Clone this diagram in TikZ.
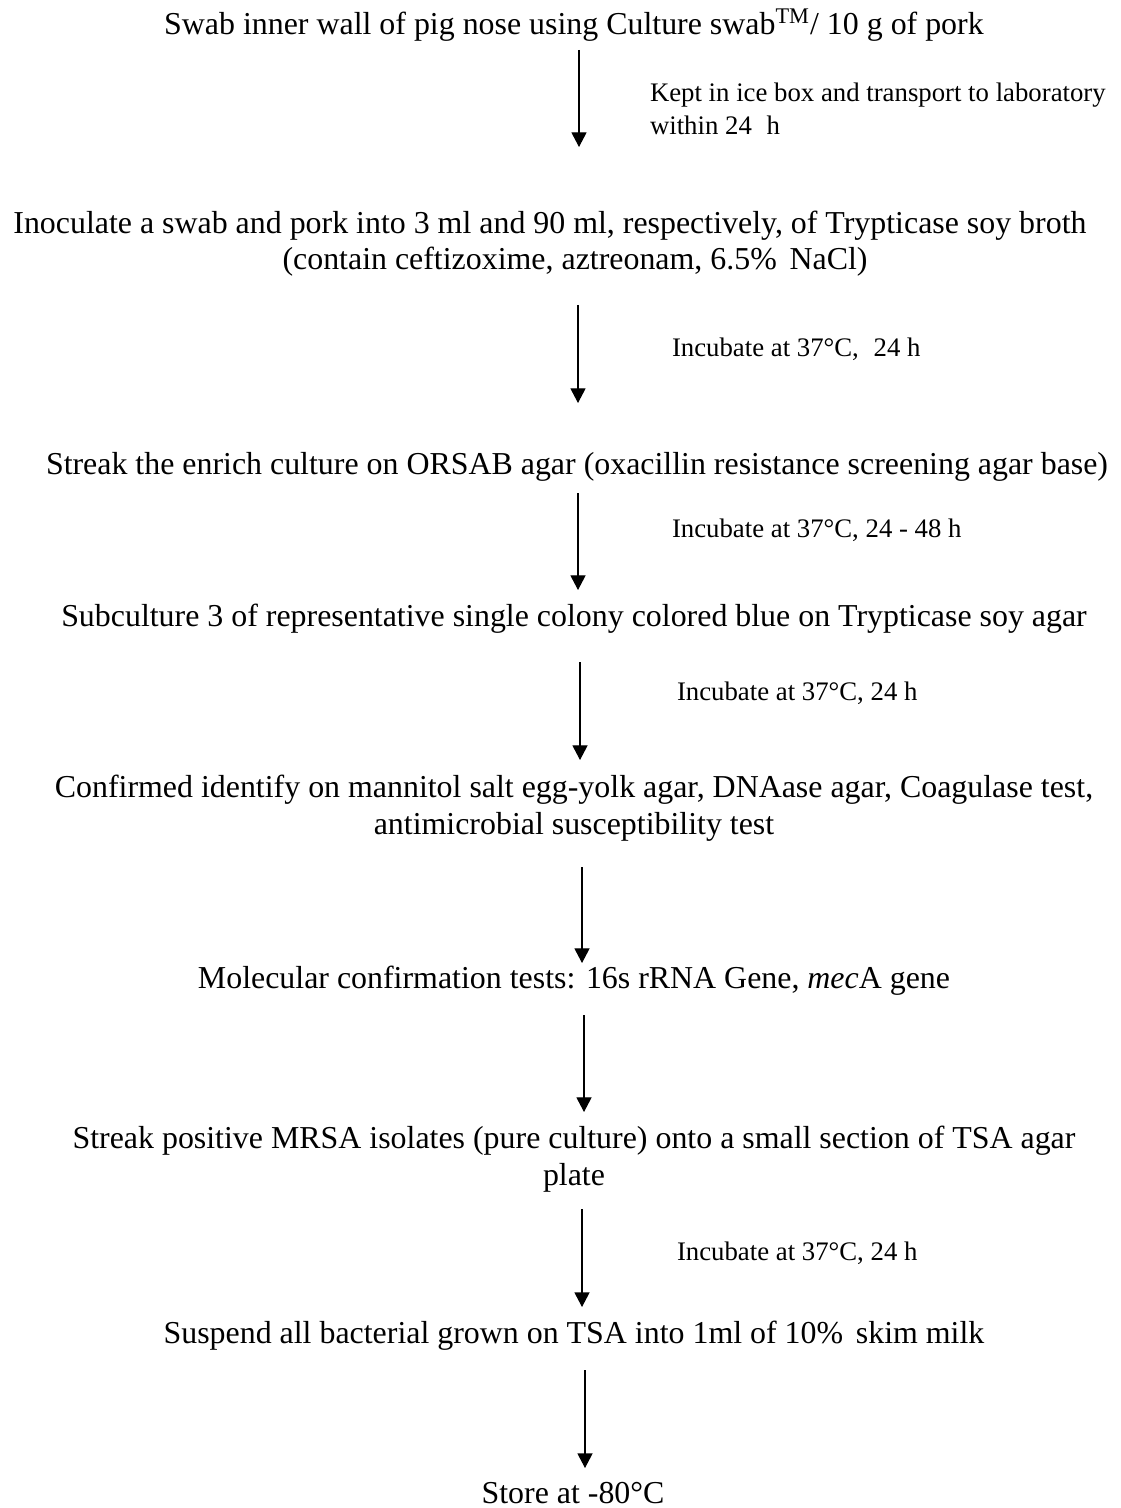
\documentclass[tikz,border=0pt]{standalone}
\usepackage{fontspec}
\setmainfont{Liberation Serif}
\usetikzlibrary{arrows.meta}
\begin{document}
\begin{tikzpicture}[x=0.4389pt,y=-0.4389pt,
  stepnode/.style={inner sep=0pt,outer sep=0pt,anchor=base,align=center,
    font=\fontsize{14}{16.1}\selectfont},
  note/.style={inner sep=0pt,outer sep=0pt,anchor=base west,align=left,
    font=\fontsize{11.75}{14.6}\selectfont},
  flow/.style={line width=0.5pt,-{Triangle[width=6.6pt,length=6.4pt]}}]
\useasboundingbox (0,0) rectangle (1120,1508);
% steps (multi-line nodes: base = baseline of the last line)
\node[stepnode] (t1) at (574,35) {Swab inner wall of pig nose using Culture swab\textsuperscript{TM}/ 10 g of pork};
\node[stepnode] (t2) at (575,270) {Inoculate a swab and pork into 3 ml and 90 ml, respectively, of Trypticase soy broth\hspace*{22pt}\\(contain ceftizoxime, aztreonam, 6.5\%\hspace{0.4em}NaCl)};
\node[stepnode] (t3) at (577,475) {Streak the enrich culture on ORSAB agar (oxacillin resistance screening agar base)};
\node[stepnode] (t4) at (574,626) {Subculture 3 of representative single colony colored blue on Trypticase soy agar};
\node[stepnode] (t5) at (574,834) {Confirmed identify on mannitol salt egg-yolk agar, DNAase agar, Coagulase test,\\antimicrobial susceptibility test};
\node[stepnode] (t6) at (574,988) {Molecular confirmation tests: 16s rRNA Gene, \textit{mec}A gene};
\node[stepnode] (t7) at (574,1185) {Streak positive MRSA isolates (pure culture) onto a small section of TSA agar\\plate};
\node[stepnode] (t8) at (574,1343) {Suspend all bacterial grown on TSA into 1ml of 10\%\hspace{0.4em}skim milk};
\node[stepnode] (t9) at (573,1503) {Store at -80°C};
% notes
\node[note] (n1) at (650,135) {Kept in ice box and transport to laboratory\\within 24\hspace{0.55em}h};
\node[note] (n2) at (672,357) {Incubate at 37°C,\hspace{0.55em}24 h};
\node[note] (n3) at (672,537) {Incubate at 37°C, 24 - 48 h};
\node[note] (n4) at (677,700) {Incubate at 37°C, 24 h};
\node[note] (n7) at (677,1260) {Incubate at 37°C, 24 h};
% arrow ends
\coordinate (a1s) at (579,50);   \coordinate (a1e) at (579,147);
\coordinate (a2s) at (578,305);  \coordinate (a2e) at (578,403);
\coordinate (a3s) at (578,493);  \coordinate (a3e) at (578,590);
\coordinate (a4s) at (580,662);  \coordinate (a4e) at (580,760);
\coordinate (a5s) at (582,867);  \coordinate (a5e) at (582,963);
\coordinate (a6s) at (584,1015); \coordinate (a6e) at (584,1112);
\coordinate (a7s) at (582,1209); \coordinate (a7e) at (582,1307);
\coordinate (a8s) at (585,1370); \coordinate (a8e) at (585,1468);
\draw[flow] (a1s) -- (a1e);
\draw[flow] (a2s) -- (a2e);
\draw[flow] (a3s) -- (a3e);
\draw[flow] (a4s) -- (a4e);
\draw[flow] (a5s) -- (a5e);
\draw[flow] (a6s) -- (a6e);
\draw[flow] (a7s) -- (a7e);
\draw[flow] (a8s) -- (a8e);
\end{tikzpicture}
\end{document}
